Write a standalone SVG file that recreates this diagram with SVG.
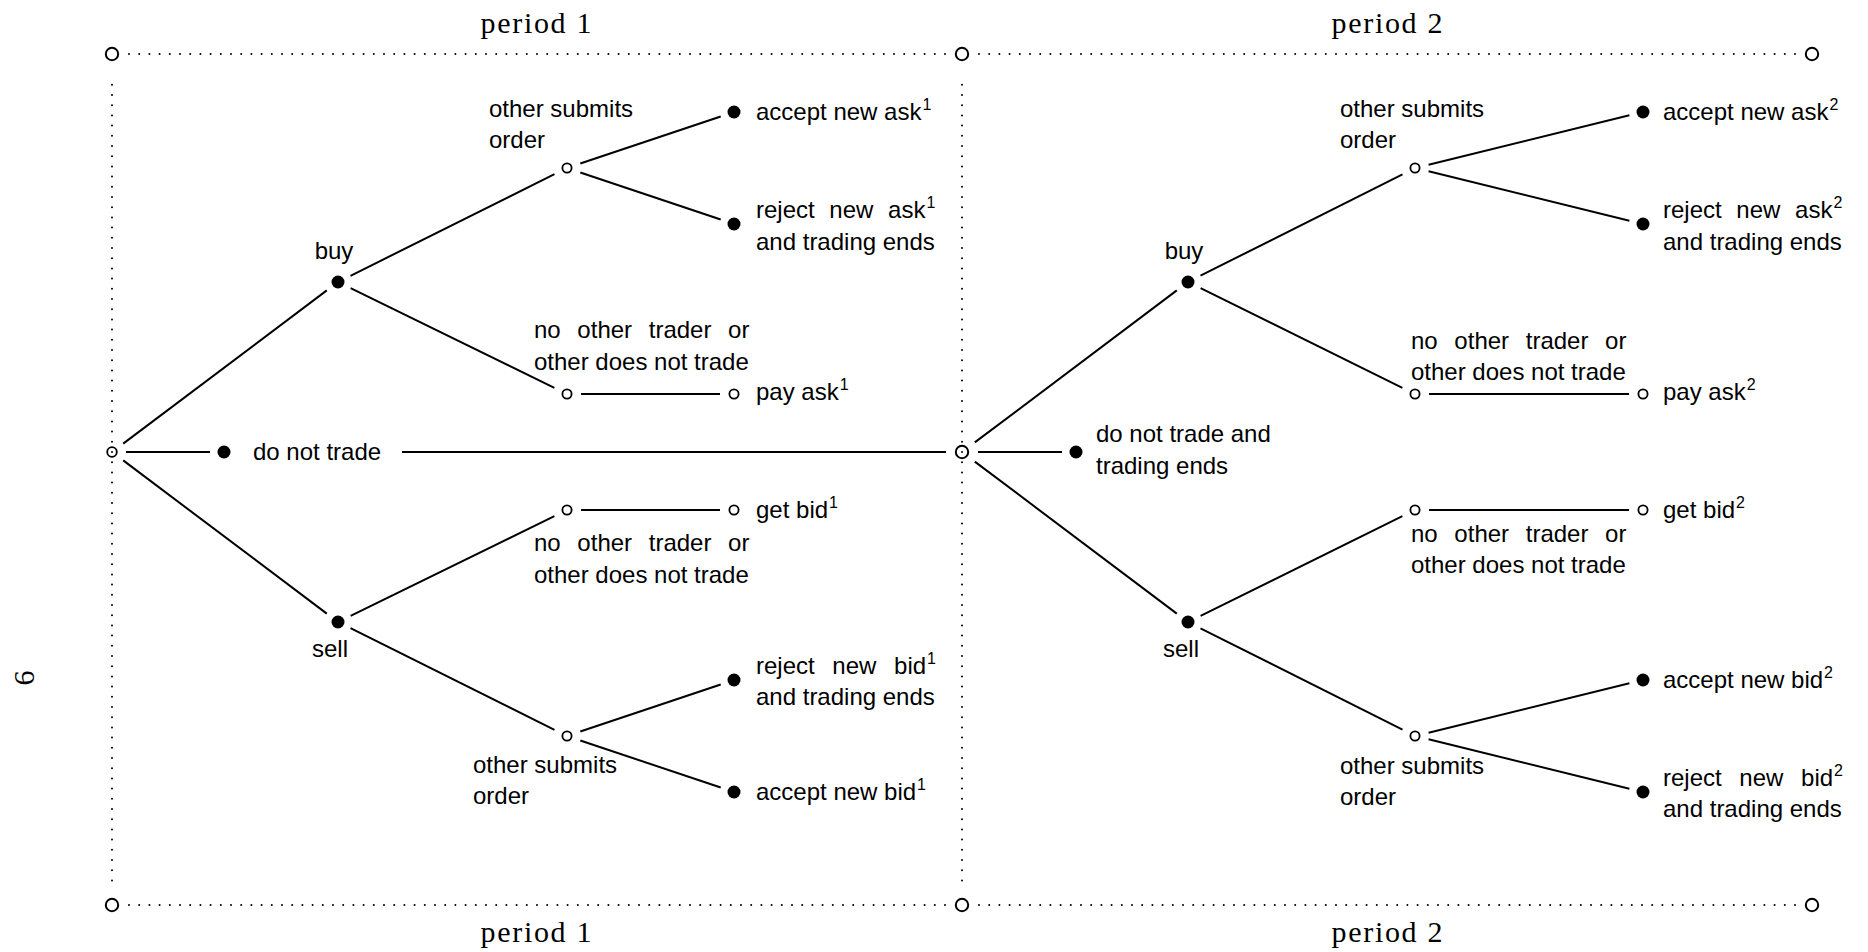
<svg xmlns="http://www.w3.org/2000/svg" width="1868" height="952" viewBox="0 0 1868 952">
<style>
.t{font-family:"Liberation Sans",Arial,sans-serif;font-size:24px;fill:#000}
.c{text-anchor:middle}
.sup{font-size:16px}
.p{font-family:"Liberation Serif","Times New Roman",serif;font-size:30px;text-anchor:middle;fill:#000}
.e{stroke:#000;stroke-width:2;fill:none}
.dot{fill:#000}
.open{fill:#fff;stroke:#000;stroke-width:1.8}
.root{fill:none;stroke:#000;stroke-width:1.8}
.corner{fill:#fff;stroke:#000;stroke-width:2}
.fr{stroke:#000;stroke-width:2;fill:none;stroke-dasharray:0 10.2;stroke-linecap:round}
</style>
<rect width="1868" height="952" fill="#fff"/>
<g id="frame">
<path class="fr" d="M129,54 H945 M979,54 H1795 M129,905 H945 M979,905 H1795"/>
<path class="fr" d="M112,452 V76 M112,452 V888 M962,452 V76 M962,452 V888"/>
<circle class="corner" cx="112" cy="54" r="6.2"/>
<circle class="corner" cx="962" cy="54" r="6.2"/>
<circle class="corner" cx="1812" cy="54" r="6.2"/>
<circle class="corner" cx="112" cy="905" r="6.2"/>
<circle class="corner" cx="962" cy="905" r="6.2"/>
<circle class="corner" cx="1812" cy="905" r="6.2"/>
<text class="p" x="536" y="33" textLength="111" lengthAdjust="spacing">period 1</text>
<text class="p" x="1387" y="33" textLength="111" lengthAdjust="spacing">period 2</text>
<text class="p" x="536" y="942" textLength="111" lengthAdjust="spacing">period 1</text>
<text class="p" x="1387" y="942" textLength="111" lengthAdjust="spacing">period 2</text>
<text class="p" transform="translate(34,678) rotate(-90)" style="font-size:30px">6</text>
</g>
<g id="connectors" class="e">
<line x1="123.2" y1="443.6" x2="326.8" y2="290.4"/>
<line x1="123.2" y1="460.4" x2="326.8" y2="613.6"/>
<line x1="126" y1="452" x2="210" y2="452"/>
<line x1="350.5" y1="275.8" x2="554.5" y2="174.2"/>
<line x1="350.6" y1="288.1" x2="554.4" y2="387.9"/>
<line x1="580.3" y1="163.5" x2="720.7" y2="116.5"/>
<line x1="580.3" y1="172.5" x2="720.7" y2="219.5"/>
<line x1="581" y1="394" x2="720" y2="394"/>
<line x1="350.6" y1="615.9" x2="554.4" y2="516.1"/>
<line x1="350.5" y1="628.2" x2="554.5" y2="729.8"/>
<line x1="581" y1="510" x2="720" y2="510"/>
<line x1="580.3" y1="731.5" x2="720.7" y2="684.5"/>
<line x1="580.3" y1="740.5" x2="720.7" y2="787.5"/>
<line x1="402" y1="452" x2="946" y2="452"/>
<line x1="974.8" y1="442.4" x2="1176.8" y2="290.4"/>
<line x1="974.8" y1="461.6" x2="1176.8" y2="613.6"/>
<line x1="978" y1="452" x2="1062" y2="452"/>
<line x1="1200.5" y1="275.7" x2="1402.5" y2="174.3"/>
<line x1="1200.6" y1="288.2" x2="1402.4" y2="387.8"/>
<line x1="1428.6" y1="164.7" x2="1629.4" y2="115.3"/>
<line x1="1428.6" y1="171.3" x2="1629.4" y2="220.7"/>
<line x1="1429" y1="394" x2="1629" y2="394"/>
<line x1="1200.6" y1="615.8" x2="1402.4" y2="516.2"/>
<line x1="1200.5" y1="628.3" x2="1402.5" y2="729.7"/>
<line x1="1429" y1="510" x2="1629" y2="510"/>
<line x1="1428.6" y1="732.7" x2="1629.4" y2="683.3"/>
<line x1="1428.6" y1="739.3" x2="1629.4" y2="788.7"/>
</g>
<g id="p1-root"><circle class="root" cx="112" cy="452" r="4.8"/></g>
<g id="p1-buy"><circle class="dot" cx="338" cy="282" r="6.5"/><text class="t c" x="334" y="258.5">buy</text></g>
<g id="p1-sell"><circle class="dot" cx="338" cy="622" r="6.5"/><text class="t c" x="330" y="657">sell</text></g>
<g id="p1-donottrade"><circle class="dot" cx="224" cy="452" r="6.5"/><text class="t" x="253" y="460">do not trade</text></g>
<g id="p1-other-up"><circle class="open" cx="567" cy="168" r="4.6"/><text class="t"><tspan x="489" y="117">other submits</tspan><tspan x="489" y="147.5">order</tspan></text></g>
<g id="p1-noother-up"><circle class="open" cx="567" cy="394" r="4.6"/><text class="t"><tspan x="534" y="338" word-spacing="10">no other trader or</tspan><tspan x="534" y="370">other does not trade</tspan></text></g>
<g id="p1-accept-ask"><circle class="dot" cx="734" cy="112" r="6.5"/><text class="t" x="756" y="120">accept new ask<tspan class="sup" dx="1" dy="-10">1</tspan></text></g>
<g id="p1-reject-ask"><circle class="dot" cx="734" cy="224" r="6.5"/><text class="t" x="756" y="218" word-spacing="8">reject new ask<tspan class="sup" dx="1" dy="-10">1</tspan></text><text class="t" x="756" y="249.5">and trading ends</text></g>
<g id="p1-pay-ask"><circle class="open" cx="734" cy="394" r="4.6"/><text class="t" x="756" y="400">pay ask<tspan class="sup" dx="1" dy="-10">1</tspan></text></g>
<g id="p1-noother-low"><circle class="open" cx="567" cy="510" r="4.6"/><text class="t"><tspan x="534" y="551" word-spacing="10">no other trader or</tspan><tspan x="534" y="583">other does not trade</tspan></text></g>
<g id="p1-get-bid"><circle class="open" cx="734" cy="510" r="4.6"/><text class="t" x="756" y="518">get bid<tspan class="sup" dx="1" dy="-10">1</tspan></text></g>
<g id="p1-other-low"><circle class="open" cx="567" cy="736" r="4.6"/><text class="t"><tspan x="473" y="773">other submits</tspan><tspan x="473" y="804">order</tspan></text></g>
<g id="p1-reject-bid"><circle class="dot" cx="734" cy="680" r="6.5"/><text class="t" x="756" y="673.5" word-spacing="11">reject new bid<tspan class="sup" dx="1" dy="-10">1</tspan></text><text class="t" x="756" y="705">and trading ends</text></g>
<g id="p1-accept-bid"><circle class="dot" cx="734" cy="792" r="6.5"/><text class="t" x="756" y="800">accept new bid<tspan class="sup" dx="1" dy="-10">1</tspan></text></g>
<g id="p2-root"><circle class="root" cx="962" cy="452" r="6.2" style="stroke-width:2"/></g>
<g id="p2-buy"><circle class="dot" cx="1188" cy="282" r="6.5"/><text class="t c" x="1184" y="258.5">buy</text></g>
<g id="p2-sell"><circle class="dot" cx="1188" cy="622" r="6.5"/><text class="t c" x="1181" y="657">sell</text></g>
<g id="p2-donottrade"><circle class="dot" cx="1076" cy="452" r="6.5"/><text class="t"><tspan x="1096" y="442">do not trade and</tspan><tspan x="1096" y="473.5">trading ends</tspan></text></g>
<g id="p2-other-up"><circle class="open" cx="1415" cy="168" r="4.6"/><text class="t"><tspan x="1340" y="117">other submits</tspan><tspan x="1340" y="147.5">order</tspan></text></g>
<g id="p2-noother-up"><circle class="open" cx="1415" cy="394" r="4.6"/><text class="t"><tspan x="1411" y="348.5" word-spacing="10">no other trader or</tspan><tspan x="1411" y="380">other does not trade</tspan></text></g>
<g id="p2-accept-ask"><circle class="dot" cx="1643" cy="112" r="6.5"/><text class="t" x="1663" y="120">accept new ask<tspan class="sup" dx="1" dy="-10">2</tspan></text></g>
<g id="p2-reject-ask"><circle class="dot" cx="1643" cy="224" r="6.5"/><text class="t" x="1663" y="218" word-spacing="8">reject new ask<tspan class="sup" dx="1" dy="-10">2</tspan></text><text class="t" x="1663" y="249.5">and trading ends</text></g>
<g id="p2-pay-ask"><circle class="open" cx="1643" cy="394" r="4.6"/><text class="t" x="1663" y="400">pay ask<tspan class="sup" dx="1" dy="-10">2</tspan></text></g>
<g id="p2-noother-low"><circle class="open" cx="1415" cy="510" r="4.6"/><text class="t"><tspan x="1411" y="541.5" word-spacing="10">no other trader or</tspan><tspan x="1411" y="573">other does not trade</tspan></text></g>
<g id="p2-get-bid"><circle class="open" cx="1643" cy="510" r="4.6"/><text class="t" x="1663" y="518">get bid<tspan class="sup" dx="1" dy="-10">2</tspan></text></g>
<g id="p2-other-low"><circle class="open" cx="1415" cy="736" r="4.6"/><text class="t"><tspan x="1340" y="773.5">other submits</tspan><tspan x="1340" y="805">order</tspan></text></g>
<g id="p2-accept-bid"><circle class="dot" cx="1643" cy="680" r="6.5"/><text class="t" x="1663" y="688">accept new bid<tspan class="sup" dx="1" dy="-10">2</tspan></text></g>
<g id="p2-reject-bid"><circle class="dot" cx="1643" cy="792" r="6.5"/><text class="t" x="1663" y="785.5" word-spacing="11">reject new bid<tspan class="sup" dx="1" dy="-10">2</tspan></text><text class="t" x="1663" y="817">and trading ends</text></g>
</svg>
